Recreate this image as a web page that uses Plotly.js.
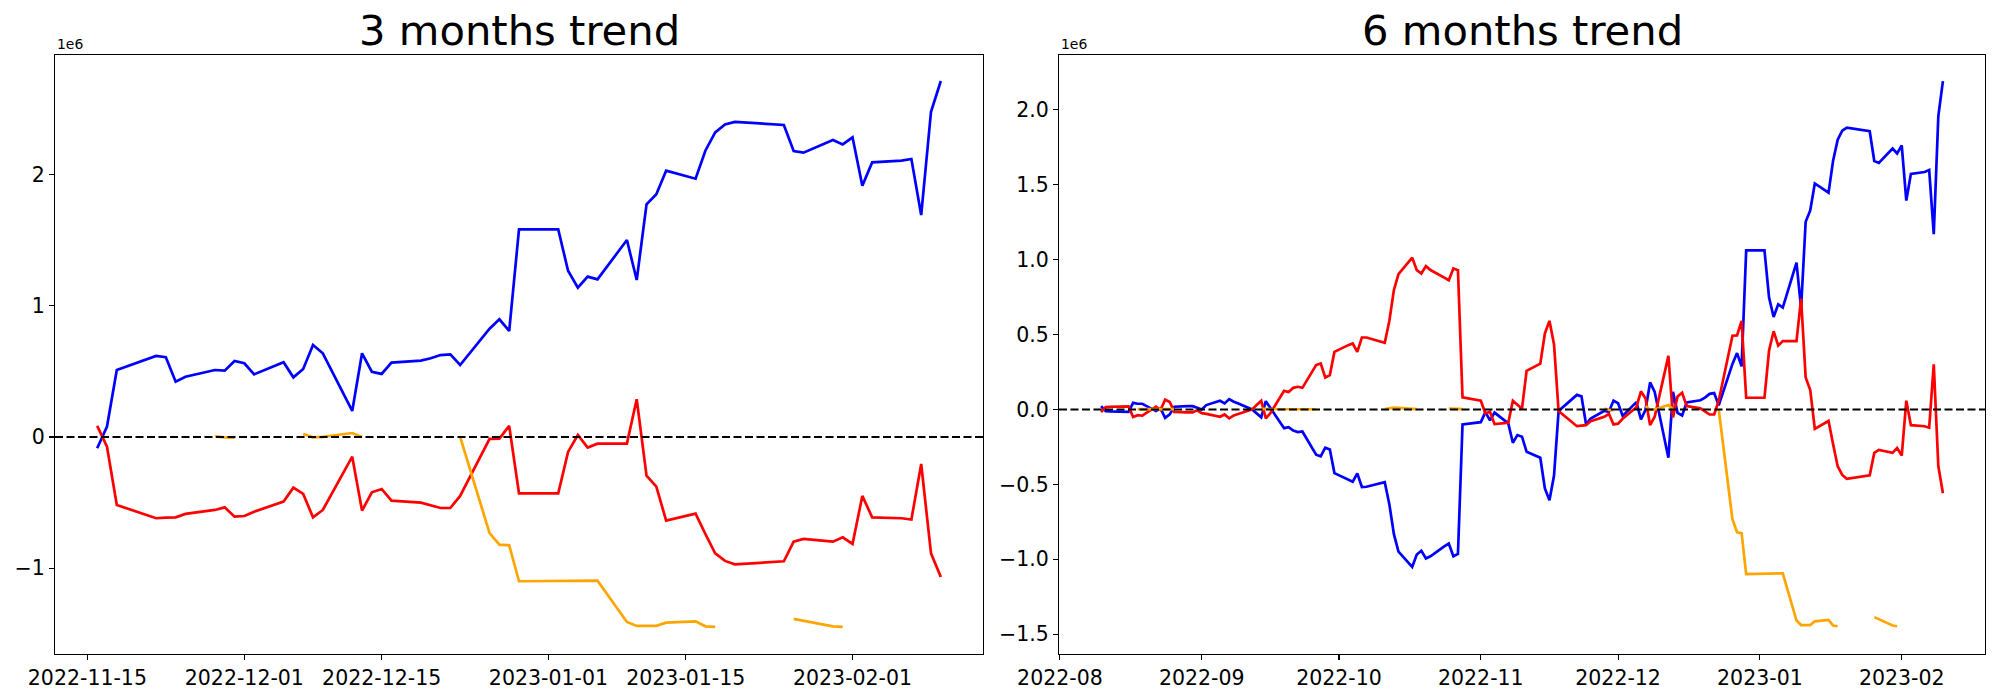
<!DOCTYPE html>
<html>
<head>
<meta charset="utf-8">
<script src="https://cdn.plot.ly/plotly-3.0.1.min.js"></script>
<style>html,body{margin:0;padding:0;background:#fff;}#chart{width:2000px;height:700px;}</style>
</head>
<body>
<div id="chart"></div>
<script>
// ---------- 3 months (values in units of 1e6) ----------
const dates3m = [
 '2022-11-16','2022-11-17','2022-11-18',
 '2022-11-22','2022-11-23','2022-11-24','2022-11-25',
 '2022-11-28','2022-11-29','2022-11-30','2022-12-01','2022-12-02',
 '2022-12-05','2022-12-06','2022-12-07','2022-12-08','2022-12-09',
 '2022-12-12','2022-12-13','2022-12-14','2022-12-15','2022-12-16',
 '2022-12-19','2022-12-20','2022-12-21','2022-12-22','2022-12-23',
 '2022-12-26','2022-12-27','2022-12-28','2022-12-29','2022-12-30',
 '2023-01-02','2023-01-03','2023-01-04','2023-01-05','2023-01-06',
 '2023-01-09','2023-01-10','2023-01-11','2023-01-12','2023-01-13',
 '2023-01-16','2023-01-17','2023-01-18','2023-01-19','2023-01-20',
 '2023-01-25','2023-01-26','2023-01-27',
 '2023-01-30','2023-01-31','2023-02-01','2023-02-02','2023-02-03',
 '2023-02-06','2023-02-07','2023-02-08','2023-02-09','2023-02-10'
];
const blue3m = [
 -0.086, 0.079, 0.51,
 0.617, 0.607, 0.421, 0.459,
 0.51, 0.505, 0.579, 0.561, 0.477,
 0.569, 0.454, 0.518, 0.70, 0.637,
 0.198, 0.637, 0.497, 0.48, 0.566,
 0.581, 0.599, 0.624, 0.629, 0.548,
 0.824, 0.896, 0.807, 1.581, 1.581,
 1.581, 1.266, 1.137, 1.221, 1.2,
 1.5, 1.195, 1.772, 1.848, 2.028,
 1.967, 2.18, 2.32, 2.38, 2.40,
 2.376, 2.178, 2.165,
 2.261, 2.228, 2.282, 1.914, 2.091,
 2.104, 2.117, 1.69, 2.477, 2.711
];
const red3m = [
 0.084, -0.074, -0.518,
 -0.619, -0.614, -0.612, -0.586,
 -0.556, -0.536, -0.607, -0.602, -0.569,
 -0.492, -0.386, -0.434, -0.612, -0.556,
 -0.15, -0.561, -0.421, -0.396, -0.485,
 -0.5, -0.518, -0.541, -0.541, -0.449,
 -0.015, -0.013, 0.084, -0.429, -0.429,
 -0.429, -0.114, 0.015, -0.081, -0.051,
 -0.051, 0.287, -0.294, -0.378, -0.637,
 -0.584, -0.739, -0.886, -0.944, -0.97,
 -0.947, -0.797, -0.777,
 -0.797, -0.764, -0.815, -0.449, -0.612,
 -0.619, -0.629, -0.206, -0.886, -1.066
];
const orange3m = [
 null, null, null,
 null, null, null, null,
 0.005, -0.003, -0.005, null, null,
 null, null, 0.023, -0.003, 0.0,
 0.03, 0.0, null, null, null,
 null, null, null, null, 0.0,
 -0.733, -0.82, -0.825, -1.099, -1.099,
 -1.099, -1.099, -1.097, -1.094, -1.094,
 -1.409, -1.439, -1.439, -1.439, -1.414,
 -1.404, -1.442, -1.447, null, null,
 null, -1.386, -1.401,
 -1.442, -1.447, null, null, null,
 null, null, null, null, null
];

// ---------- 6 months (values in units of 1e6) ----------
const dates6m = [
 '2022-08-10','2022-08-11','2022-08-12','2022-08-15','2022-08-16','2022-08-17','2022-08-18','2022-08-19',
 '2022-08-22','2022-08-23','2022-08-24','2022-08-25','2022-08-26','2022-08-29','2022-08-30','2022-08-31',
 '2022-09-01','2022-09-02','2022-09-05','2022-09-06','2022-09-07','2022-09-08','2022-09-09',
 '2022-09-12','2022-09-13','2022-09-14','2022-09-15','2022-09-16','2022-09-19','2022-09-20','2022-09-21',
 '2022-09-22','2022-09-23','2022-09-26','2022-09-27','2022-09-28','2022-09-29','2022-09-30',
 '2022-10-03','2022-10-04','2022-10-05','2022-10-06','2022-10-07','2022-10-10','2022-10-11','2022-10-12',
 '2022-10-13','2022-10-14','2022-10-17','2022-10-18','2022-10-19','2022-10-20','2022-10-21',
 '2022-10-24','2022-10-25','2022-10-26','2022-10-27','2022-10-28','2022-10-31',
 '2022-11-01','2022-11-02','2022-11-03','2022-11-04','2022-11-07','2022-11-08','2022-11-09','2022-11-10',
 '2022-11-11','2022-11-14','2022-11-15',
 '2022-11-16','2022-11-17','2022-11-18',
 '2022-11-22','2022-11-23','2022-11-24','2022-11-25',
 '2022-11-28','2022-11-29','2022-11-30','2022-12-01','2022-12-02',
 '2022-12-05','2022-12-06','2022-12-07','2022-12-08','2022-12-09',
 '2022-12-12','2022-12-13','2022-12-14','2022-12-15','2022-12-16',
 '2022-12-19','2022-12-20','2022-12-21','2022-12-22','2022-12-23',
 '2022-12-26','2022-12-27','2022-12-28','2022-12-29','2022-12-30',
 '2023-01-02','2023-01-03','2023-01-04','2023-01-05','2023-01-06',
 '2023-01-09','2023-01-10','2023-01-11','2023-01-12','2023-01-13',
 '2023-01-16','2023-01-17','2023-01-18','2023-01-19','2023-01-20',
 '2023-01-25','2023-01-26','2023-01-27',
 '2023-01-30','2023-01-31','2023-02-01','2023-02-02','2023-02-03',
 '2023-02-06','2023-02-07','2023-02-08','2023-02-09','2023-02-10'
];
const blue6m = [
 0.022, -0.011, -0.013, -0.016, -0.016, 0.044, 0.038, 0.038,
 -0.011, 0.007, -0.056, -0.033, 0.018, 0.022, 0.022, 0.011,
 0.0, 0.029, 0.058, 0.04, 0.069, 0.051, 0.04,
 0.0, -0.027, -0.053, 0.055, 0.01, -0.125, -0.118, -0.141,
 -0.151, -0.147, -0.302, -0.313, -0.255, -0.267, -0.425,
 -0.471, -0.482, -0.427, -0.518, -0.516, -0.495, -0.485, -0.632,
 -0.832, -0.949, -1.051, -0.968, -0.943, -0.995, -0.98,
 -0.914, -0.895, -0.98, -0.964, -0.1, -0.09,
 -0.085, -0.018, -0.073, -0.021, -0.093, -0.222, -0.171, -0.182,
 -0.282, -0.322, -0.527,
 -0.606, -0.441, -0.01,
 0.097, 0.087, -0.099, -0.061,
 -0.01, -0.015, 0.059, 0.041, -0.043,
 0.049, -0.066, -0.002, 0.18, 0.117,
 -0.322, 0.117, -0.023, -0.04, 0.046,
 0.061, 0.079, 0.104, 0.109, 0.028,
 0.304, 0.376, 0.287, 1.061, 1.061,
 1.061, 0.746, 0.617, 0.701, 0.68,
 0.98, 0.675, 1.252, 1.328, 1.508,
 1.447, 1.66, 1.80, 1.86, 1.88,
 1.856, 1.658, 1.645,
 1.741, 1.708, 1.762, 1.394, 1.571,
 1.584, 1.597, 1.17, 1.957, 2.191
];
const red6m = [
 -0.018, 0.016, 0.018, 0.02, 0.02, -0.05, -0.038, -0.042,
 0.018, -0.004, 0.065, 0.05, -0.016, -0.02, -0.02, -0.006,
 -0.025, -0.03, -0.049, -0.033, -0.06, -0.04, -0.03,
 0.0, 0.029, 0.058, -0.06, -0.025, 0.124, 0.116, 0.144,
 0.151, 0.144, 0.296, 0.307, 0.213, 0.229, 0.384,
 0.429, 0.44, 0.384, 0.48, 0.48, 0.456, 0.444, 0.59,
 0.796, 0.902, 1.013, 0.929, 0.907, 0.956, 0.93,
 0.88, 0.862, 0.94, 0.929, 0.08, 0.067,
 0.058, -0.027, -0.016, -0.098, -0.089, 0.058, 0.03, 0.005,
 0.258, 0.305, 0.507,
 0.591, 0.433, -0.011,
 -0.112, -0.107, -0.105, -0.079,
 -0.049, -0.029, -0.1, -0.095, -0.062,
 0.015, 0.121, 0.073, -0.105, -0.049,
 0.357, -0.054, 0.086, 0.111, 0.022,
 0.007, -0.011, -0.034, -0.034, 0.058,
 0.492, 0.494, 0.591, 0.078, 0.078,
 0.078, 0.393, 0.522, 0.426, 0.456,
 0.456, 0.74, 0.213, 0.129, -0.13,
 -0.077, -0.232, -0.379, -0.437, -0.463,
 -0.44, -0.29, -0.27,
 -0.29, -0.257, -0.308, 0.058, -0.105,
 -0.112, -0.122, 0.301, -0.379, -0.559
];
const orange6m = [
 null, null, null, null, null, null, 0.002, 0.002,
 0.003, 0.003, 0.002, 0.002, 0.002, null, null, null,
 null, null, null, null, null, null, null,
 null, null, 0.003, 0.003, 0.002, 0.002, 0.003, 0.002,
 0.002, 0.003, 0.002, null, null, null, null,
 null, null, null, null, null, null, 0.002, 0.008,
 0.012, 0.01, 0.005, 0.002, null, null, null,
 null, 0.005, 0.006, 0.004, 0.002, null,
 null, null, null, null, null, null, null, null,
 null, null, null,
 null, null, null,
 null, null, null, null,
 0.005, -0.003, -0.005, null, null,
 null, null, 0.023, -0.003, 0.0,
 0.03, 0.0, null, null, null,
 null, null, null, null, 0.0,
 -0.733, -0.82, -0.825, -1.099, -1.099,
 -1.099, -1.099, -1.097, -1.094, -1.094,
 -1.409, -1.439, -1.439, -1.439, -1.414,
 -1.404, -1.442, -1.447, null, null,
 null, -1.386, -1.401,
 -1.442, -1.447, null, null, null,
 null, null, null, null, null
];

// ---------- ticks ----------
const xTicks3m = ['2022-11-15','2022-12-01','2022-12-15','2023-01-01','2023-01-15','2023-02-01'];
const xTickText3m = ['2022-11-15','2022-12-01','2022-12-15','2023-01-01','2023-01-15','2023-02-01'];
const yTicks3m = [-1, 0, 1, 2];
const yTickText3m = ['\u22121','0','1','2'];
const xTicks6m = ['2022-08-01','2022-09-01','2022-10-01','2022-11-01','2022-12-01','2023-01-01','2023-02-01'];
const xTickText6m = ['2022-08','2022-09','2022-10','2022-11','2022-12','2023-01','2023-02'];
const yTicks6m = [-1.5, -1.0, -0.5, 0.0, 0.5, 1.0, 1.5, 2.0];
const yTickText6m = ['\u22121.5','\u22121.0','\u22120.5','0.0','0.5','1.0','1.5','2.0'];
const titles = ['3 months trend', '6 months trend'];
const exponentLabel = '1e6';

const LW = 2.7;
function tr(x, y, color, xa, ya) {
  return {x: x, y: y, type: 'scatter', mode: 'lines', line: {color: color, width: LW},
          xaxis: xa, yaxis: ya, showlegend: false, hoverinfo: 'skip', connectgaps: false};
}
const data = [
  tr(dates3m, blue3m, '#0000ff', 'x', 'y'),
  tr(dates3m, red3m, '#ff0000', 'x', 'y'),
  tr(dates3m, orange3m, '#ffa500', 'x', 'y'),
  tr(dates6m, blue6m, '#0000ff', 'x2', 'y2'),
  tr(dates6m, red6m, '#ff0000', 'x2', 'y2'),
  tr(dates6m, orange6m, '#ffa500', 'x2', 'y2')
];

const tickFont = {family: 'DejaVu Sans', size: 20.5, color: '#000'};
function xax(domain, range, tv, tt, anchor) {
  return {type: 'date', domain: domain, range: range, tickmode: 'array', tickvals: tv, ticktext: tt,
    showgrid: false, zeroline: false, showline: true, mirror: true, linecolor: '#000', linewidth: 1.1,
    ticks: 'outside', ticklen: 5, tickwidth: 1.1, tickcolor: '#000', tickfont: tickFont, anchor: anchor,
    fixedrange: true};
}
function yax(range, tv, tt, anchor) {
  return {domain: [46/700, 645/700], range: range, tickmode: 'array', tickvals: tv, ticktext: tt,
    showgrid: false, zeroline: false, showline: true, mirror: true, linecolor: '#000', linewidth: 1.1,
    ticks: 'outside', ticklen: 5, tickwidth: 1.1, tickcolor: '#000', tickfont: tickFont, anchor: anchor,
    fixedrange: true};
}

const layout = {
  width: 2000, height: 700,
  margin: {l: 0, r: 0, t: 0, b: 0},
  paper_bgcolor: '#fff', plot_bgcolor: '#fff',
  font: {family: 'DejaVu Sans', color: '#000'},
  xaxis: xax([55/2000, 983/2000], ['2022-11-11 16:48', '2023-02-14 07:12'], xTicks3m, xTickText3m, 'y'),
  yaxis: yax([-1.653, 2.909], yTicks3m, yTickText3m, 'x'),
  xaxis2: xax([1059/2000, 1985/2000], ['2022-07-31 19:12', '2023-02-19 04:48'], xTicks6m, xTickText6m, 'y2'),
  yaxis2: yax([-1.632, 2.365], yTicks6m, yTickText6m, 'x2'),
  shapes: [
    {type: 'line', xref: 'x domain', yref: 'y', x0: 0, x1: 1, y0: 0, y1: 0, layer: 'above',
     line: {color: '#000', width: 2, dash: '8px,3.5px'}},
    {type: 'line', xref: 'x2 domain', yref: 'y2', x0: 0, x1: 1, y0: 0, y1: 0, layer: 'above',
     line: {color: '#000', width: 2, dash: '8px,3.5px'}}
  ],
  annotations: [
    {text: titles[0], xref: 'paper', yref: 'paper', x: 519/2000, y: 1 - 31/700, xanchor: 'center', yanchor: 'middle',
     showarrow: false, font: {family: 'DejaVu Sans', size: 41.7, color: '#000'}},
    {text: titles[1], xref: 'paper', yref: 'paper', x: 1522/2000, y: 1 - 31/700, xanchor: 'center', yanchor: 'middle',
     showarrow: false, font: {family: 'DejaVu Sans', size: 41.7, color: '#000'}},
    {text: exponentLabel, xref: 'paper', yref: 'paper', x: 55/2000, y: 1 - 54/700, xanchor: 'left', yanchor: 'bottom',
     showarrow: false, font: {family: 'DejaVu Sans', size: 13.9, color: '#000'}},
    {text: exponentLabel, xref: 'paper', yref: 'paper', x: 1059/2000, y: 1 - 54/700, xanchor: 'left', yanchor: 'bottom',
     showarrow: false, font: {family: 'DejaVu Sans', size: 13.9, color: '#000'}}
  ]
};

Plotly.newPlot('chart', data, layout, {staticPlot: true, displayModeBar: false});
</script>
</body>
</html>
